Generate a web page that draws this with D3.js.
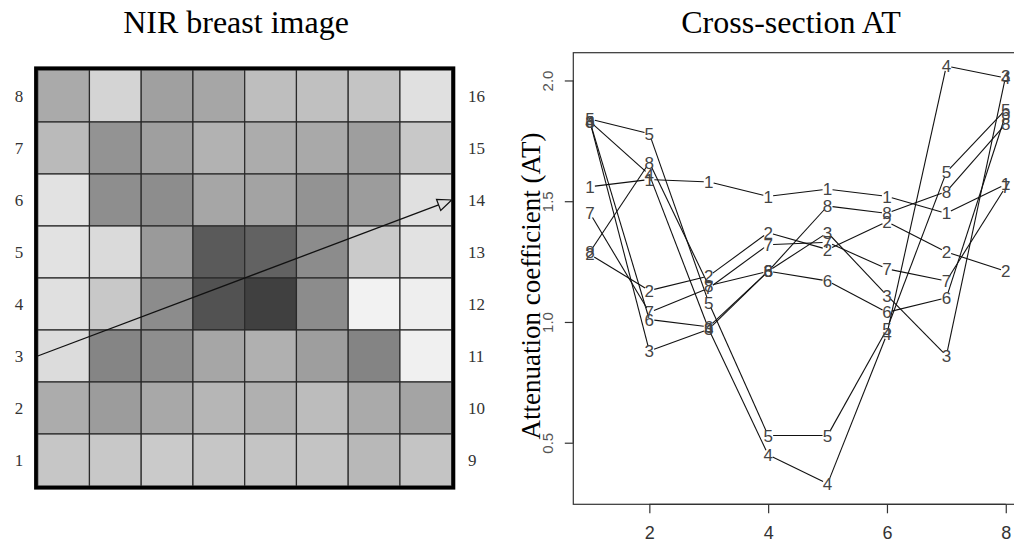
<!DOCTYPE html>
<html>
<head>
<meta charset="utf-8">
<script src="https://cdn.jsdelivr.net/npm/d3@7"></script>
<style>
  body { margin: 0; background: #fff; }
  svg { display: block; }
</style>
</head>
<body>
<div id="chart"></div>
<script>
// ---- left panel: NIR image, gray level per cell (rows top -> bottom)
const rowLabelsLeft = ['8', '7', '6', '5', '4', '3', '2', '1'];
const rowLabelsRight = ['16', '15', '14', '13', '12', '11', '10', '9'];
const grayRow8 = [170, 212, 160, 166, 190, 192, 196, 224];
const grayRow7 = [186, 147, 159, 178, 172, 169, 158, 200];
const grayRow6 = [226, 142, 141, 166, 163, 147, 156, 224];
const grayRow5 = [226, 218, 154, 90, 98, 140, 202, 226];
const grayRow4 = [224, 200, 140, 82, 64, 140, 242, 238];
const grayRow3 = [220, 133, 142, 166, 176, 158, 132, 240];
const grayRow2 = [172, 156, 168, 182, 176, 188, 170, 164];
const grayRow1 = [198, 200, 202, 198, 196, 196, 184, 196];
const grayRows = [grayRow8, grayRow7, grayRow6, grayRow5, grayRow4, grayRow3, grayRow2, grayRow1];
// cross-section arrow in grid units (col, row from bottom)
const arrowFrom = [0, 2.5];
const arrowTo = [8, 5.5];

// ---- right panel: attenuation coefficient along the cross-section
const positions = [1, 2, 3, 4, 5, 6, 7, 8];
const at1 = [1.56, 1.59, 1.58, 1.52, 1.55, 1.52, 1.45, 1.57];
const at2 = [1.28, 1.13, 1.19, 1.37, 1.30, 1.415, 1.29, 1.21];
const at3 = [1.83, 0.88, 0.97, 1.21, 1.37, 1.11, 0.86, 2.02];
const at4 = [1.83, 1.61, 0.97, 0.45, 0.33, 0.95, 2.06, 2.01];
const at5 = [1.84, 1.78, 1.08, 0.53, 0.53, 0.97, 1.62, 1.88];
const at6 = [1.83, 1.01, 0.98, 1.21, 1.17, 1.04, 1.10, 1.86];
const at7 = [1.45, 1.04, 1.14, 1.32, 1.33, 1.22, 1.17, 1.56];
const at8 = [1.29, 1.66, 1.15, 1.21, 1.48, 1.45, 1.54, 1.82];
const seriesNames = ['1', '2', '3', '4', '5', '6', '7', '8'];
const seriesValues = [at1, at2, at3, at4, at5, at6, at7, at8];
const xTicks = [2, 4, 6, 8];
const yTicks = [0.5, 1.0, 1.5, 2.0];
const xLim = [0.72, 8.28];
const yLim = [0.245, 2.115];

const width = 1014, height = 544;
const serif = '"Liberation Serif", "Times New Roman", serif';
const sans = '"Liberation Sans", Arial, Helvetica, sans-serif';

const svg = d3.select('#chart').append('svg')
  .attr('width', width)
  .attr('height', height);

// ================= left panel =================
const gx = d3.scaleLinear().domain([0, 8]).range([37.7, 451.7]);
const gy = d3.scaleLinear().domain([0, 8]).range([486, 70]);
const cw = gx(1) - gx(0);
const ch = gy(0) - gy(1);

svg.append('text')
  .text('NIR breast image')
  .attr('x', 236).attr('y', 33)
  .style('font-family', serif)
  .style('font-size', '32px')
  .style('text-anchor', 'middle');

const left = svg.append('g');

grayRows.forEach((row, r) => {
  left.selectAll('.cell-r' + r)
    .data(row)
    .enter().append('rect')
    .attr('x', (d, c) => gx(c))
    .attr('y', gy(8 - r))
    .attr('width', cw)
    .attr('height', ch)
    .attr('fill', d => d3.rgb(d, d, d))
    .attr('stroke', '#2a2a2a')
    .attr('stroke-width', 1.2);
});

// thick frame
left.append('rect')
  .attr('x', gx(0) - 1.8).attr('y', gy(8) - 1.8)
  .attr('width', gx(8) - gx(0) + 3.6)
  .attr('height', gy(0) - gy(8) + 3.6)
  .attr('fill', 'none')
  .attr('stroke', '#000')
  .attr('stroke-width', 3.6);

left.selectAll('.rowlab-l')
  .data(rowLabelsLeft)
  .enter().append('text')
  .text(d => d)
  .attr('x', 19)
  .attr('y', (d, i) => gy(8 - i) + ch / 2)
  .attr('dy', '0.35em')
  .style('font-family', serif)
  .style('font-size', '17px')
  .style('fill', '#333')
  .style('text-anchor', 'middle');

left.selectAll('.rowlab-r')
  .data(rowLabelsRight)
  .enter().append('text')
  .text(d => d)
  .attr('x', 468)
  .attr('y', (d, i) => gy(8 - i) + ch / 2)
  .attr('dy', '0.35em')
  .style('font-family', serif)
  .style('font-size', '17px')
  .style('fill', '#333');

// cross-section arrow
const ax0 = gx(arrowFrom[0]), ay0 = gy(arrowFrom[1]);
const ax1 = gx(arrowTo[0]), ay1 = gy(arrowTo[1]);
const ang = Math.atan2(ay1 - ay0, ax1 - ax0);
const headLen = 14, headHalf = 6;
const bx = ax1 - headLen * Math.cos(ang), by = ay1 - headLen * Math.sin(ang);
left.append('line')
  .attr('x1', ax0).attr('y1', ay0)
  .attr('x2', bx).attr('y2', by)
  .attr('stroke', '#111')
  .attr('stroke-width', 1.3);
left.append('polygon')
  .attr('points', [
    [ax1, ay1],
    [bx - headHalf * Math.sin(ang), by + headHalf * Math.cos(ang)],
    [bx + headHalf * Math.sin(ang), by - headHalf * Math.cos(ang)]
  ].map(p => p.join(',')).join(' '))
  .attr('fill', 'none')
  .attr('stroke', '#111')
  .attr('stroke-width', 1.2);

// ================= right panel =================
const x = d3.scaleLinear().domain(xLim).range([573.3, 1022.4]);
const y = d3.scaleLinear().domain(yLim).range([504.3, 52.7]);

svg.append('text')
  .text('Cross-section AT')
  .attr('x', 791).attr('y', 33)
  .style('font-family', serif)
  .style('font-size', '32px')
  .style('text-anchor', 'middle');

const plot = svg.append('g');

plot.append('rect')
  .attr('x', x(xLim[0])).attr('y', y(yLim[1]))
  .attr('width', x(xLim[1]) - x(xLim[0]))
  .attr('height', y(yLim[0]) - y(yLim[1]))
  .attr('fill', 'none')
  .attr('stroke', '#333')
  .attr('stroke-width', 1.2);

// x axis
const xAxis = plot.append('g')
  .attr('transform', `translate(0,${y(yLim[0])})`)
  .call(d3.axisBottom(x).tickValues(xTicks).tickSize(9).tickFormat(d3.format('d')));
xAxis.select('.domain').remove();
xAxis.append('line')
  .attr('x1', x(xTicks[0])).attr('x2', x(xTicks[xTicks.length - 1]))
  .attr('stroke', '#333').attr('stroke-width', 1.2);
xAxis.selectAll('.tick line').attr('stroke', '#333').attr('stroke-width', 1.2);
xAxis.selectAll('.tick text')
  .attr('y', 35).attr('dy', 0)
  .style('font-family', sans)
  .style('font-size', '18px')
  .style('fill', '#333');

// y axis with rotated labels
const yAxis = plot.append('g')
  .attr('transform', `translate(${x(xLim[0])},0)`)
  .call(d3.axisLeft(y).tickValues(yTicks).tickSize(8.5).tickFormat(d3.format('.1f')));
yAxis.select('.domain').remove();
yAxis.append('line')
  .attr('y1', y(yTicks[0])).attr('y2', y(yTicks[yTicks.length - 1]))
  .attr('stroke', '#333').attr('stroke-width', 1.2);
yAxis.selectAll('.tick line').attr('stroke', '#333').attr('stroke-width', 1.2);
yAxis.selectAll('.tick text')
  .attr('transform', 'rotate(-90)')
  .attr('x', 0).attr('y', -20.5).attr('dy', 0)
  .style('text-anchor', 'middle')
  .style('font-family', sans)
  .style('font-size', '15px')
  .style('fill', '#555');

svg.append('text')
  .text('Attenuation coefficient (AT)')
  .attr('transform', 'translate(540,286) rotate(-90)')
  .style('font-family', serif)
  .style('font-size', '27px')
  .style('text-anchor', 'middle');

// lines with small gaps round the number symbols (R type = "b")
const gap = 5;
seriesValues.forEach((vals, s) => {
  const pts = vals.map((v, i) => [x(positions[i]), y(v)]);
  const segs = d3.pairs(pts).map(([a, b]) => {
    const dx = b[0] - a[0], dy = b[1] - a[1];
    const len = Math.hypot(dx, dy);
    const ux = dx / len, uy = dy / len;
    return [[a[0] + ux * gap, a[1] + uy * gap], [b[0] - ux * gap, b[1] - uy * gap]];
  });
  plot.selectAll('.seg-' + s)
    .data(segs)
    .enter().append('line')
    .attr('x1', d => d[0][0]).attr('y1', d => d[0][1])
    .attr('x2', d => d[1][0]).attr('y2', d => d[1][1])
    .attr('stroke', '#111')
    .attr('stroke-width', 1.1);
});

seriesValues.forEach((vals, s) => {
  plot.selectAll('.lab-' + s)
    .data(vals)
    .enter().append('text')
    .text(seriesNames[s])
    .attr('x', (d, i) => x(positions[i]))
    .attr('y', d => y(d))
    .attr('dy', '0.36em')
    .style('font-family', sans)
    .style('font-size', '17px')
    .style('fill', '#444')
    .style('text-anchor', 'middle');
});
</script>
</body>
</html>
